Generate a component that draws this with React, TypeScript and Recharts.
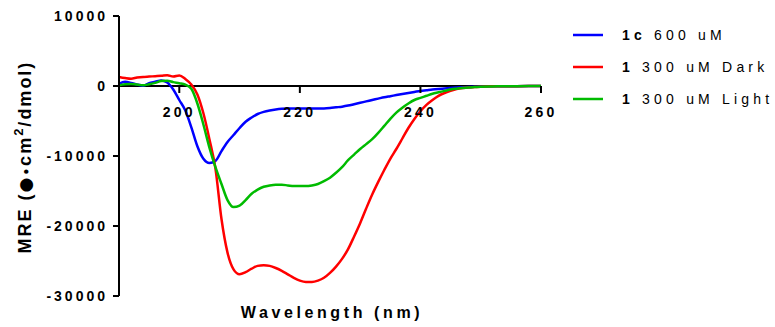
import React from 'react';
import { LineChart, Line, XAxis, YAxis, ReferenceLine, Legend } from 'recharts';

const WAVELENGTH = [
  190, 191, 192, 193, 194, 195, 196, 197, 198, 199,
  200, 201, 202, 203, 204, 205, 206, 207, 208, 209,
  210, 211, 212, 213, 214, 215, 216, 217, 218, 219,
  220, 221, 222, 223, 224, 225, 226, 227, 228, 229,
  230, 231, 232, 233, 234, 235, 236, 237, 238, 239,
  240, 241, 242, 243, 244, 245, 246, 247, 248, 249,
  250, 252, 254, 256, 258, 260,
];

// 1c 600 uM
const MRE_1C = [
  300, 600, 450, 200, 50, 400, 600, 800, 500, -500,
  -2000, -3500, -5900, -8600, -10400, -11000, -10700, -9300, -8000, -7000,
  -6000, -5100, -4500, -4000, -3700, -3500, -3350, -3250, -3200, -3200,
  -3200, -3200, -3200, -3200, -3200, -3150, -3050, -2950, -2800, -2600,
  -2400, -2200, -2000, -1800, -1600, -1450, -1300, -1150, -1000, -850,
  -700, -600, -500, -420, -350, -280, -220, -170, -130, -100,
  -80, -50, -30, -20, -10, 0,
];

// 1 300 uM Dark
const MRE_DARK = [
  1300, 1150, 1050, 1200, 1300, 1350, 1400, 1450, 1550, 1350,
  1500, 1000, 200, -1200, -3900, -7600, -11800, -19000, -23800, -26200,
  -26900, -26600, -26100, -25700, -25600, -25700, -26000, -26400, -26900, -27400,
  -27800, -28000, -28000, -27800, -27400, -26700, -25800, -24700, -23300, -21500,
  -19600, -17500, -15500, -13700, -12000, -10400, -9000, -7500, -6000, -4700,
  -3600, -2700, -2000, -1400, -1000, -700, -450, -300, -200, -150,
  -100, -50, -30, -20, -10, 0,
];

// 1 300 uM Light
const MRE_LIGHT = [
  100, 250, 300, 200, 100, 250, 450, 700, 750, 550,
  400, 200, -400, -2500, -5500, -8800, -11600, -14000, -16300, -17300,
  -17100, -16300, -15400, -14800, -14400, -14200, -14100, -14100, -14200, -14300,
  -14300, -14300, -14200, -14000, -13600, -13100, -12400, -11600, -10600, -9800,
  -9000, -8300, -7600, -6700, -5700, -4700, -3800, -3100, -2500, -2000,
  -1700, -1400, -1100, -900, -700, -500, -380, -280, -200, -150,
  -100, -60, -30, -20, -10, 0,
];

const X_TICKS = [200, 220, 240, 260];
const Y_TICKS = [-30000, -20000, -10000, 0, 10000];

const data = WAVELENGTH.map((w, i) => ({
  w,
  c600: MRE_1C[i],
  dark: MRE_DARK[i],
  light: MRE_LIGHT[i],
}));

const FONT = '"Liberation Sans", Arial, Helvetica, sans-serif';
const W = 775;
const H = 327;
const MARGIN = { top: 16, right: 234, bottom: 0, left: 0 };
const Y_AXIS_W = 119;
const X_AXIS_H = 31;
const Y_MIN = -30000;
const Y_MAX = 10000;
const PLOT_H = H - MARGIN.top - MARGIN.bottom - X_AXIS_H;
const PLOT_W = W - MARGIN.left - MARGIN.right - Y_AXIS_W;
const ZERO_Y = MARGIN.top + (PLOT_H * Y_MAX) / (Y_MAX - Y_MIN);

const XTick = ({ x, payload }: any) => (
  <g>
    <line x1={x} x2={x} y1={ZERO_Y} y2={ZERO_Y + 7} stroke="#000" strokeWidth={2} />
    <text
      x={x}
      y={ZERO_Y + 31}
      textAnchor="middle"
      fontFamily={FONT}
      fontWeight="bold"
      fontSize={14}
      letterSpacing={3.2}
      fill="#000"
    >
      {payload.value}
    </text>
  </g>
);

const YTitle = () => {
  const cx = 31;
  const cy = MARGIN.top + PLOT_H / 2 + 1;
  return (
    <text
      x={cx}
      y={cy}
      transform={`rotate(-90, ${cx}, ${cy})`}
      textAnchor="middle"
      fontFamily={FONT}
      fontWeight="bold"
      fontSize={18}
      letterSpacing={2}
      fill="#000"
    >
      MRE (
      <tspan fontFamily='"DejaVu Sans", sans-serif' fontSize={17}>●</tspan>
      <tspan fontFamily='"DejaVu Sans", sans-serif' fontSize={12}>•</tspan>
      cm
      <tspan fontSize={13} dy={-8}>2</tspan>
      <tspan dy={8}>/dmol)</tspan>
    </text>
  );
};

const XTitle = () => (
  <text
    x={Y_AXIS_W + PLOT_W / 2 + 2}
    y={H - 9}
    textAnchor="middle"
    fontFamily={FONT}
    fontWeight="bold"
    fontSize={16}
    letterSpacing={3.6}
    fill="#000"
  >
    Wavelength (nm)
  </text>
);

const LEGEND_ITEMS = [
  { color: '#0000FF', bold: '1c', rest: ' 600 uM' },
  { color: '#FF0000', bold: '1', rest: ' 300 uM Dark' },
  { color: '#00BB00', bold: '1', rest: ' 300 uM Light' },
];

const LegendBox = () => (
  <svg width={200} height={100} style={{ overflow: 'visible' }}>
    {LEGEND_ITEMS.map((item, i) => (
      <g key={i}>
        <line x1={5} x2={35} y1={17 + i * 32} y2={17 + i * 32} stroke={item.color} strokeWidth={2.5} />
        <text
          x={54}
          y={22 + i * 32}
          fontFamily={FONT}
          fontSize={14}
          letterSpacing={4.2}
          fill="#000"
        >
          <tspan fontWeight="bold">{item.bold}</tspan>
          {item.rest}
        </text>
      </g>
    ))}
  </svg>
);

export default function App() {
  return (
    <div style={{ position: 'fixed', left: 0, top: 0, width: W, height: H, overflow: 'hidden', background: '#fff' }}>
      <LineChart width={W} height={H} data={data} margin={MARGIN}>
        <XAxis
          dataKey="w"
          type="number"
          domain={[190, 260]}
          ticks={X_TICKS}
          axisLine={false}
          tickLine={false}
          height={X_AXIS_H}
          tick={<XTick />}
          label={() => <XTitle />}
        />
        <YAxis
          type="number"
          domain={[Y_MIN, Y_MAX]}
          ticks={Y_TICKS}
          width={Y_AXIS_W}
          axisLine={{ stroke: '#000', strokeWidth: 2 }}
          tickLine={{ stroke: '#000', strokeWidth: 2 }}
          tickSize={6}
          tickMargin={5}
          tick={{ fontFamily: FONT, fontWeight: 'bold', fontSize: 14, letterSpacing: 3, fill: '#000' }}
          label={() => <YTitle />}
        />
        <ReferenceLine y={0} stroke="#000" strokeWidth={2} />
        <Legend
          layout="horizontal"
          align="center"
          verticalAlign="middle"
          wrapperStyle={{ left: 568, top: 18, width: 200, height: 100, overflow: 'visible' }}
          content={() => <LegendBox />}
        />
        <Line dataKey="c600" stroke="#0000FF" strokeWidth={2.5} dot={false} type="monotone" isAnimationActive={false} />
        <Line dataKey="dark" stroke="#FF0000" strokeWidth={2.5} dot={false} type="monotone" isAnimationActive={false} />
        <Line dataKey="light" stroke="#00BB00" strokeWidth={2.5} dot={false} type="monotone" isAnimationActive={false} />
      </LineChart>
    </div>
  );
}
